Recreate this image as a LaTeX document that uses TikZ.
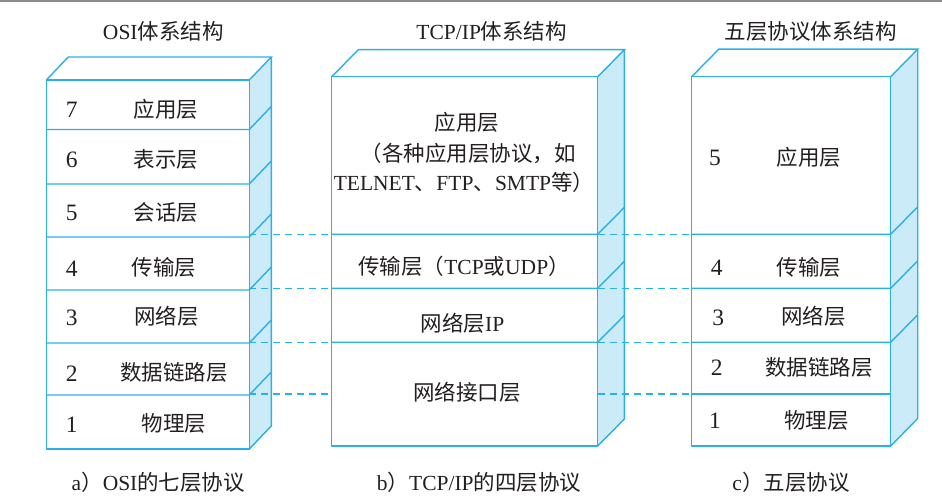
\documentclass[tikz,border=0pt]{standalone}
\usepackage{fontspec}
\usetikzlibrary{calc}
\setmainfont{Liberation Serif}
\newfontfamily\zhfont{Noto Sans CJK SC}
\newcommand\zh[1]{{\zhfont #1}}
\definecolor{edge}{HTML}{29B0E6}
\definecolor{sidefill}{HTML}{CBEBF9}
\definecolor{ink}{HTML}{231F20}
\begin{document}
\begin{tikzpicture}[x=1pt,y=-1pt,line width=1.4pt,
  lbl/.style={text=ink,font=\fontsize{21.5}{26}\selectfont,inner sep=0pt,anchor=base},
  num/.style={lbl,font=\fontsize{23.5}{26}\selectfont},
  frontline/.style={draw=edge},
  link/.style={draw=edge,dash pattern=on 7pt off 5pt,line width=1.1pt}]
\useasboundingbox (0,0) rectangle (942,502);
\fill[gray!90] (0,0) rectangle (942,2.5);

% ---------- a) OSI stack ----------
\coordinate (aTL) at (46.3,80);   \coordinate (aTR) at (249.3,80);
\coordinate (aBL) at (46.3,449);  \coordinate (aBR) at (249.3,449);
\fill[sidefill] (aTR) -- ++(22,-23) -- ($(aBR)+(22,-23)$) -- (aBR) -- cycle;
\draw[frontline] (aTL) -- ++(22,-23) -- ($(aTR)+(22,-23)$) -- (aTR);
\draw[frontline] ($(aTR)+(22,-23)$) -- ($(aBR)+(22,-23)$) -- (aBR);
\draw[frontline] (aTL) rectangle (aBR);
\foreach \y in {129.5,184,237,290,343,395}{
  \draw[frontline] (46.3,\y) -- (249.3,\y) -- ++(22,-23);
}

% ---------- b) TCP/IP stack ----------
\coordinate (bTL) at (331.7,76.7); \coordinate (bTR) at (597.7,76.7);
\coordinate (bBL) at (331.7,446);  \coordinate (bBR) at (597.7,446);
\fill[sidefill] (bTR) -- ++(26.7,-27) -- ($(bBR)+(26.7,-27)$) -- (bBR) -- cycle;
\draw[frontline] (bTL) -- ++(26.7,-27) -- ($(bTR)+(26.7,-27)$) -- (bTR);
\draw[frontline] ($(bTR)+(26.7,-27)$) -- ($(bBR)+(26.7,-27)$) -- (bBR);
\draw[frontline] (bTL) rectangle (bBR);
\foreach \y in {234.3,288.3,342.3}{
  \draw[frontline] (331.7,\y) -- (597.7,\y) -- ++(26.7,-27);
}

% ---------- c) five-layer stack ----------
\coordinate (cTL) at (691.7,76.7); \coordinate (cTR) at (890.7,76.7);
\coordinate (cBL) at (691.7,446);  \coordinate (cBR) at (890.7,446);
\fill[sidefill] (cTR) -- ++(27,-27.5) -- ($(cBR)+(27,-27.5)$) -- (cBR) -- cycle;
\draw[frontline] (cTL) -- ++(27,-27.5) -- ($(cTR)+(27,-27.5)$) -- (cTR);
\draw[frontline] ($(cTR)+(27,-27.5)$) -- ($(cBR)+(27,-27.5)$) -- (cBR);
\draw[frontline] (cTL) rectangle (cBR);
\foreach \y in {234.3,288.3,342.3}{
  \draw[frontline] (691.7,\y) -- (890.7,\y) -- ++(27,-27.5);
}
\draw[frontline] (691.7,394) -- (890.7,394);

% ---------- dashed correspondences ----------
\foreach \y [count=\i] in {234.3,288.3,342.3,394}{
  \coordinate (la\i) at (249.3,\y); \coordinate (lb\i) at (331.7,\y);
  \coordinate (rb\i) at (597.7,\y); \coordinate (rc\i) at (691.7,\y);
  \draw[link] (la\i) -- (lb\i);
  \draw[link] (rb\i) -- (rc\i);
}

% ---------- titles ----------
\node[lbl] (ta) at (163.3,39.2) {OSI\zh{体系结构}};
\node[lbl] (tb) at (491.7,39.2) {TCP/IP\zh{体系结构}};
\node[lbl] (tc) at (810.8,39.2) {\zh{五层协议体系结构}};

% ---------- OSI labels ----------
\node[num] (a7n) at (71.7,118) {7}; \node[lbl] (a7) at (166,117.5) {\zh{应用层}};
\node[num] (a6n) at (71.7,168) {6}; \node[lbl] (a6) at (166,167.5) {\zh{表示层}};
\node[num] (a5n) at (71.7,221) {5}; \node[lbl] (a5) at (166,220.5) {\zh{会话层}};
\node[num] (a4n) at (71.7,276.3) {4}; \node[lbl] (a4) at (164,275.8) {\zh{传输层}};
\node[num] (a3n) at (71.7,325.3) {3}; \node[lbl] (a3) at (166.7,324.8) {\zh{网络层}};
\node[num] (a2n) at (71.7,381.3) {2}; \node[lbl] (a2) at (173.8,380.8) {\zh{数据链路层}};
\node[num] (a1n) at (71.7,432.3) {1}; \node[lbl] (a1) at (174,431.8) {\zh{物理层}};

% ---------- TCP/IP labels ----------
\node[lbl] (b4a) at (467,130.8) {\zh{应用层}};
\node[lbl] (b4b) at (468,161.8) {\zh{（各种应用层协议，如}};
\node[lbl] (b4c) at (464,190.8) {TELNET\zh{、}FTP\zh{、}SMTP\zh{等）}};
\node[lbl] (b3) at (464,274.2) {\zh{传输层（}TCP\zh{或}UDP\zh{）}};
\node[lbl] (b2) at (462.5,331.8) {\zh{网络层}IP};
\node[lbl] (b1) at (467,400.8) {\zh{网络接口层}};

% ---------- five-layer labels ----------
\node[num] (c5n) at (715,165.7) {5};   \node[lbl] (c5) at (809,165.2) {\zh{应用层}};
\node[num] (c4n) at (716.7,275.7) {4}; \node[lbl] (c4) at (809,275.2) {\zh{传输层}};
\node[num] (c3n) at (718.3,325.3) {3}; \node[lbl] (c3) at (813.7,324.8) {\zh{网络层}};
\node[num] (c2n) at (716.7,375.7) {2}; \node[lbl] (c2) at (819,375.2) {\zh{数据链路层}};
\node[num] (c1n) at (715,428.7) {1};   \node[lbl] (c1) at (816.5,428.2) {\zh{物理层}};

% ---------- captions ----------
\node[lbl] (capa) at (158.3,490.8) {a\zh{）}OSI\zh{的七层协议}};
\node[lbl] (capb) at (479,490.8) {b\zh{）}TCP/IP\zh{的四层协议}};
\node[lbl] (capc) at (791,490.8) {c\zh{）五层协议}};
\end{tikzpicture}
\end{document}
